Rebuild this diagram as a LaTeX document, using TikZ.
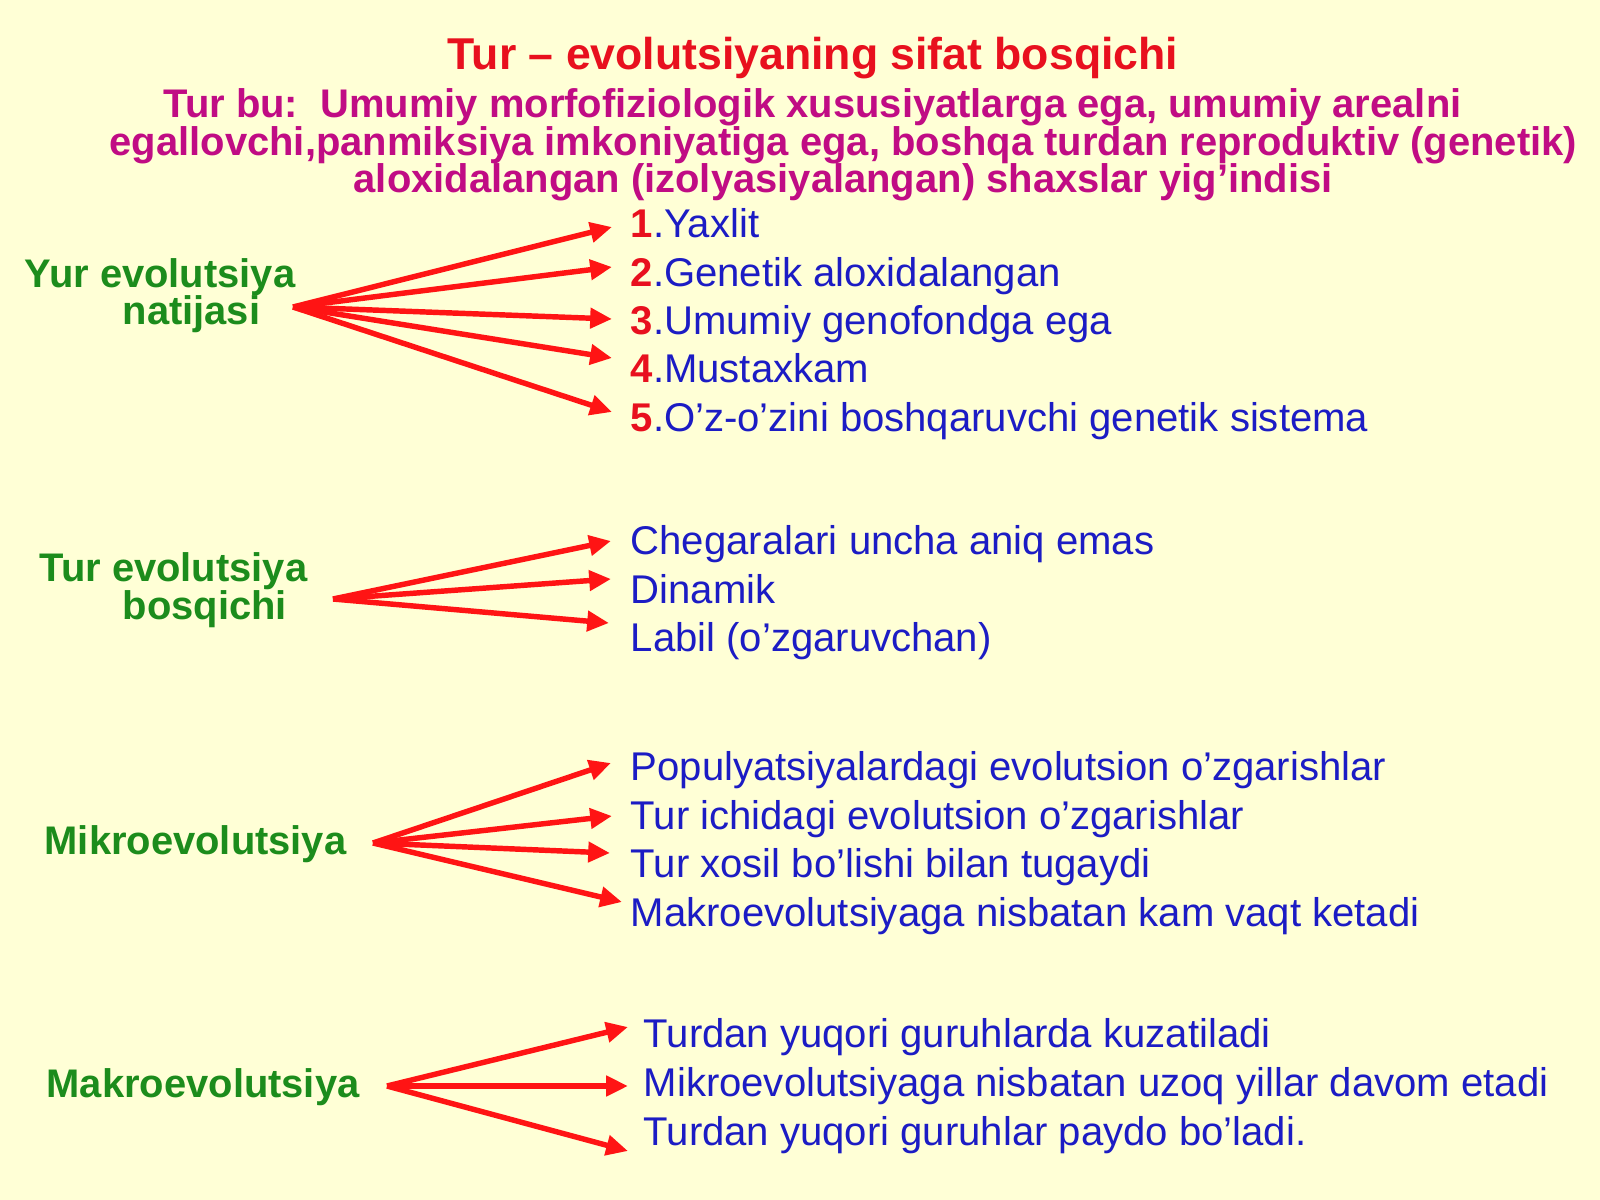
\documentclass[tikz,border=0pt]{standalone}
\usepackage{fontspec}
\setmainfont{Liberation Sans}
\usetikzlibrary{arrows.meta}
\definecolor{bgc}{RGB}{255,255,214}
\definecolor{ttl}{RGB}{232,16,30}
\definecolor{mag}{RGB}{192,12,132}
\definecolor{grn}{RGB}{28,140,28}
\definecolor{blu}{RGB}{28,28,196}
\definecolor{arr}{RGB}{255,20,20}
\tikzset{
  titlestyle/.style={inner sep=0pt, anchor=base, text=ttl, font=\fontsize{12.68}{14}\selectfont\bfseries},
  substyle/.style={inner sep=0pt, anchor=base west, text=mag, font=\fontsize{11.36}{13}\selectfont\bfseries},
  grnstyle/.style={inner sep=0pt, anchor=base west, text=grn, font=\fontsize{11.35}{13}\selectfont\bfseries},
  itemstyle/.style={inner sep=0pt, anchor=base west, text=blu, font=\fontsize{11.4}{13}\selectfont},
  arrowstyle/.style={draw=arr, line width=1.55pt, -{Triangle[length=6.2pt,width=5.6pt]}},
}
\newcommand{\num}[1]{{\bfseries\color{ttl}#1}}
\begin{document}
\begin{tikzpicture}[x=0.01cm,y=-0.01cm]
\fill[bgc] (0,0) rectangle (1600,1200);
\useasboundingbox (0,0) rectangle (1600,1200);

\node[titlestyle] (title) at (813,69) {Tur – evolutsiyaning sifat bosqichi};
\node[substyle] (sub1) at (163,117) {Tur bu:\ \ Umumiy morfofiziologik xususiyatlarga ega, umumiy arealni};
\node[substyle] (sub2) at (109,155) {egallovchi,panmiksiya imkoniyatiga ega, boshqa turdan reproduktiv (genetik)};
\node[substyle] (sub3) at (353,192) {aloxidalangan (izolyasiyalangan) shaxslar yig’indisi};

% group 1
\node[grnstyle] (g1a) at (24,287) {Yur evolutsiya};
\node[grnstyle] (g1b) at (122,324) {natijasi};
\node[itemstyle] (a1) at (630,237) {\num{1}.Yaxlit};
\node[itemstyle] (a2) at (630,286) {\num{2}.Genetik aloxidalangan};
\node[itemstyle] (a3) at (630,334) {\num{3}.Umumiy genofondga ega};
\node[itemstyle] (a4) at (630,382) {\num{4}.Mustaxkam};
\node[itemstyle] (a5) at (630,431) {\num{5}.O’z-o’zini boshqaruvchi genetik sistema};
\coordinate (s1) at (293,307);
\coordinate (t11) at (612,227);
\coordinate (t12) at (612,267);
\coordinate (t13) at (612,319);
\coordinate (t14) at (612,358);
\coordinate (t15) at (612,412);
\foreach \t in {t11,t12,t13,t14,t15} \draw[arrowstyle] (s1) -- (\t);

% group 2
\node[grnstyle] (g2a) at (39,581) {Tur evolutsiya};
\node[grnstyle] (g2b) at (122,619) {bosqichi};
\node[itemstyle] (b1) at (630,554) {Chegaralari uncha aniq emas};
\node[itemstyle] (b2) at (630,603) {Dinamik};
\node[itemstyle] (b3) at (630,651) {Labil (o’zgaruvchan)};
\coordinate (s2) at (333,599);
\coordinate (t21) at (611,541);
\coordinate (t22) at (611,579);
\coordinate (t23) at (609,623);
\foreach \t in {t21,t22,t23} \draw[arrowstyle] (s2) -- (\t);

% group 3
\node[grnstyle] (g3) at (44,854) {Mikroevolutsiya};
\node[itemstyle] (c1) at (630,780) {Populyatsiyalardagi evolutsion o’zgarishlar};
\node[itemstyle] (c2) at (630,829) {Tur ichidagi evolutsion o’zgarishlar};
\node[itemstyle] (c3) at (630,877) {Tur xosil bo’lishi bilan tugaydi};
\node[itemstyle] (c4) at (630,926) {Makroevolutsiyaga nisbatan kam vaqt ketadi};
\coordinate (s3) at (373,843);
\coordinate (t31) at (611,763);
\coordinate (t32) at (612,816);
\coordinate (t33) at (610,853);
\coordinate (t34) at (622,902);
\foreach \t in {t31,t32,t33,t34} \draw[arrowstyle] (s3) -- (\t);

% group 4
\node[grnstyle] (g4) at (46,1097) {Makroevolutsiya};
\node[itemstyle] (d1) at (643,1047) {Turdan yuqori guruhlarda kuzatiladi};
\node[itemstyle] (d2) at (643,1096) {Mikroevolutsiyaga nisbatan uzoq yillar davom etadi};
\node[itemstyle] (d3) at (643,1145) {Turdan yuqori guruhlar paydo bo’ladi.};
\coordinate (s4) at (387,1086);
\coordinate (t41) at (628,1027);
\coordinate (t42) at (628,1086);
\coordinate (t43) at (628,1151);
\foreach \t in {t41,t42,t43} \draw[arrowstyle] (s4) -- (\t);
\end{tikzpicture}
\end{document}
